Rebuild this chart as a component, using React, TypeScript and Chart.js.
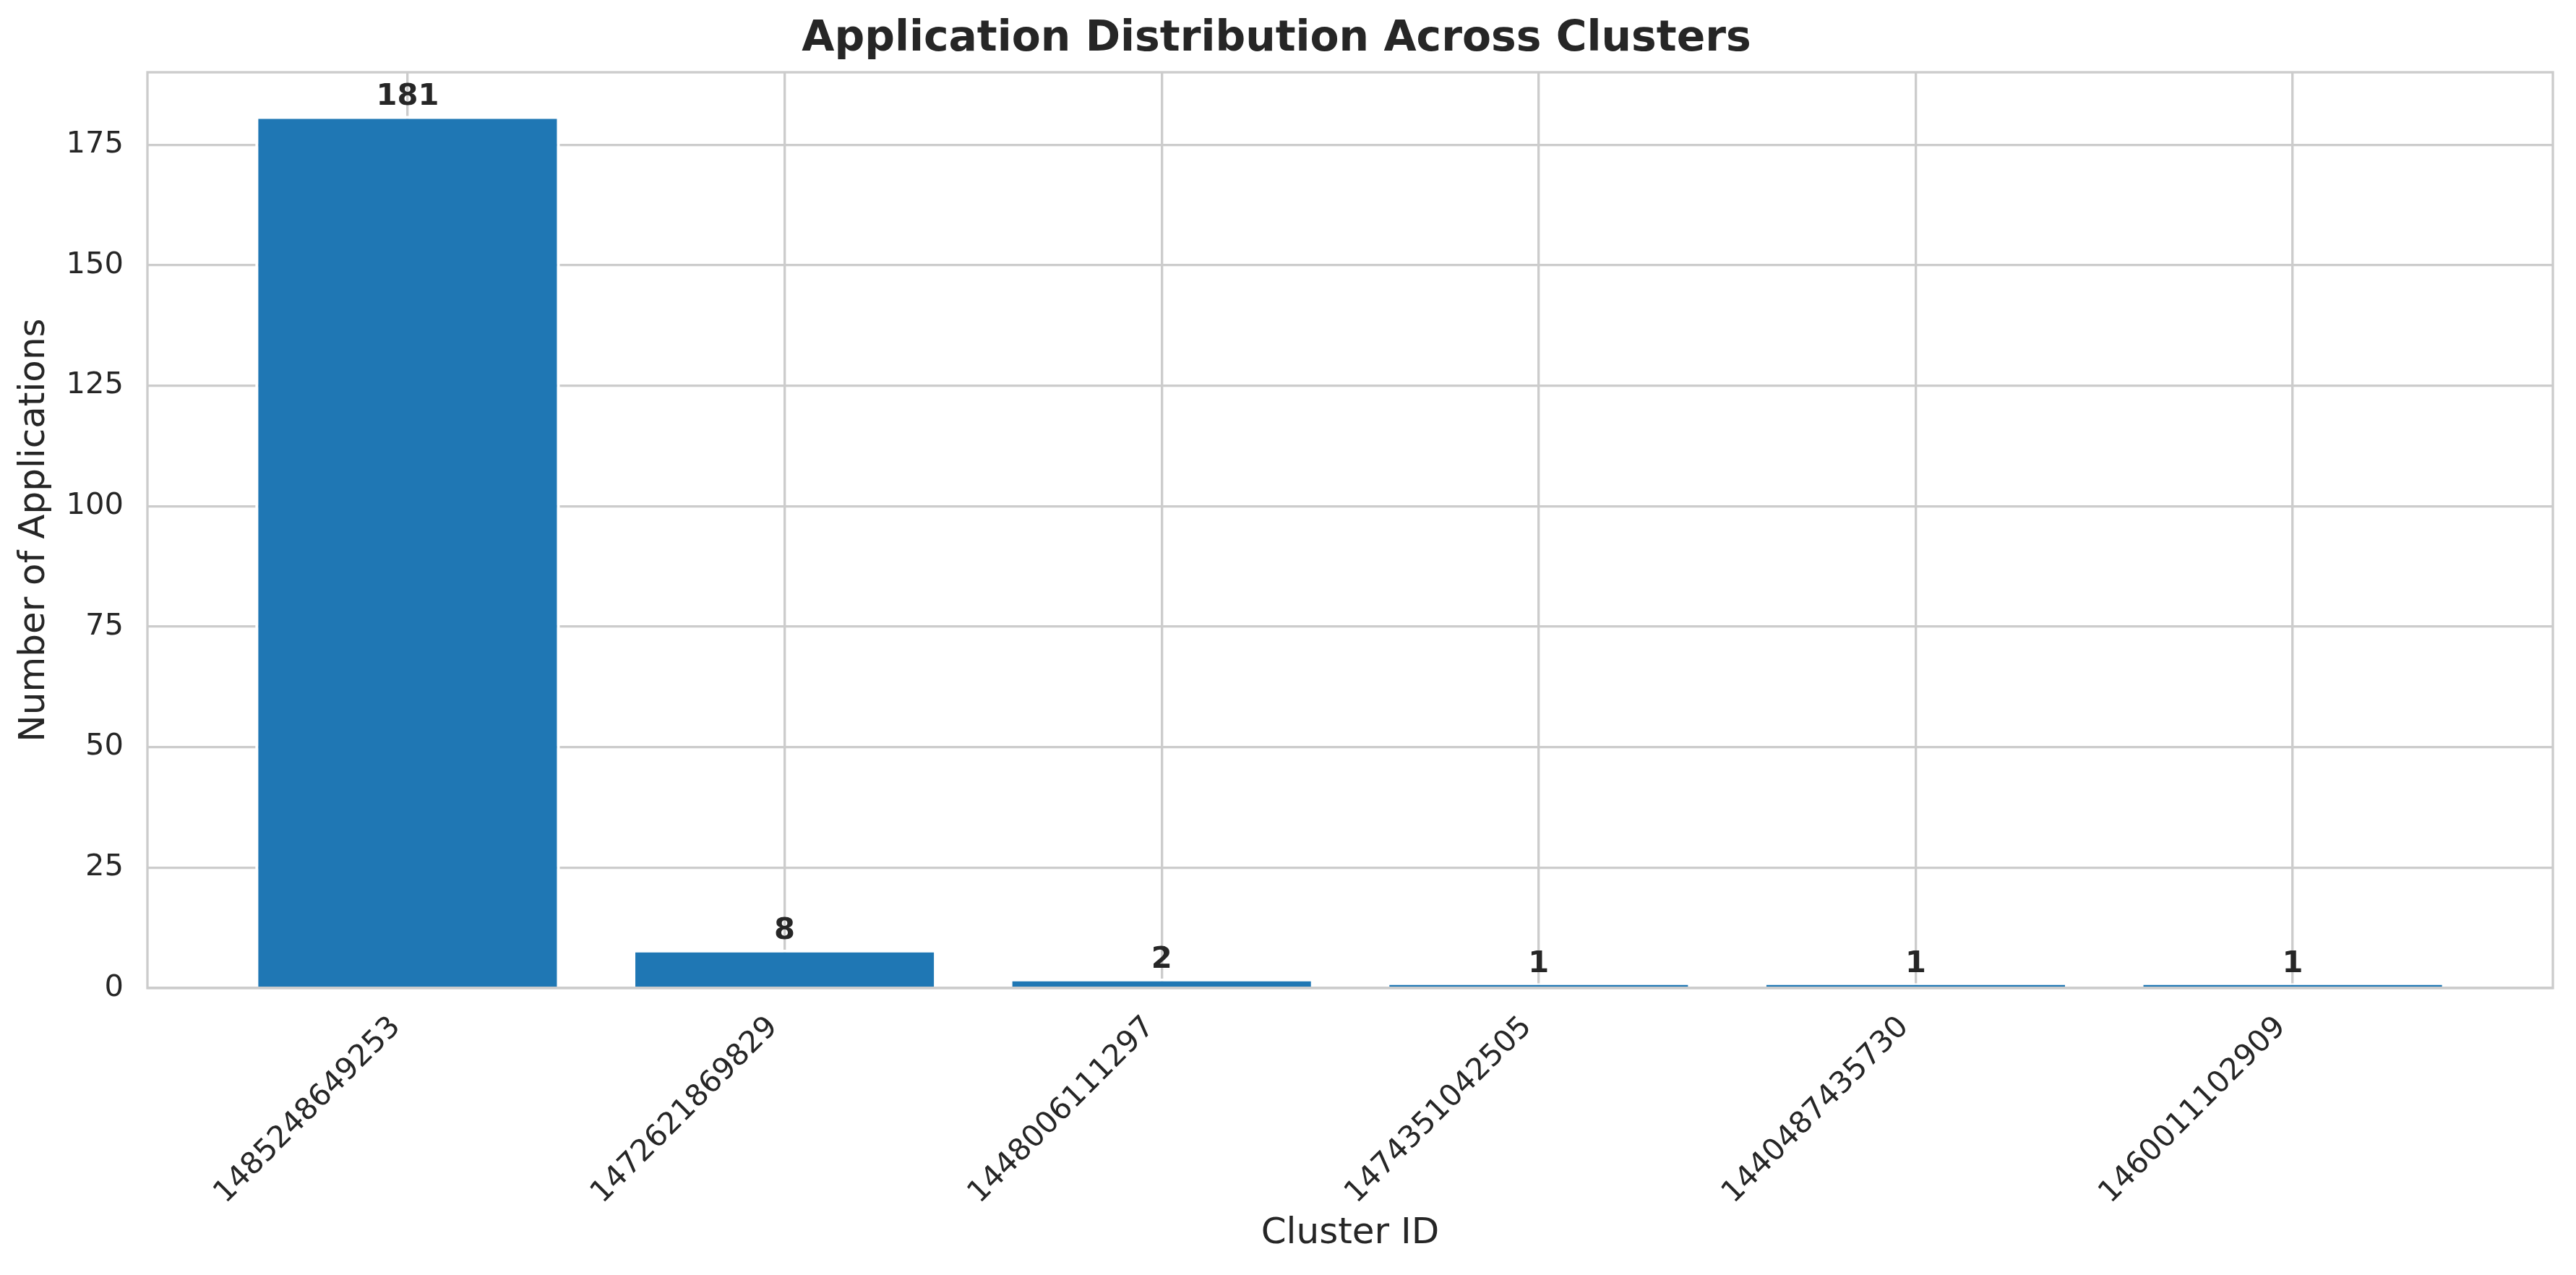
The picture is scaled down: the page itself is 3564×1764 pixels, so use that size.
import React, { useEffect, useRef } from 'react';
import { Chart, registerables } from 'chart.js';

Chart.register(...registerables);

const clusterIds = [
  '1485248649253',
  '1472621869829',
  '1448006111297',
  '1474351042505',
  '1440487435730',
  '1460011102909',
];
const applicationCounts = [181, 8, 2, 1, 1, 1];
const yTickValues = [0, 25, 50, 75, 100, 125, 150, 175];
const xLimits = [-0.69, 5.69];
const yLimits = [0, 190.05];

const titleText = 'Application Distribution Across Clusters';
const xTitle = 'Cluster ID';
const yTitle = 'Number of Applications';

const W = 3564;
const H = 1764;
const TEXT = '#262626';
const GRID = '#cccccc';
const BAR = '#1f77b4';
const FONT = "'DejaVu Sans', sans-serif";
const PT = 300 / 72;

const framePlugin = {
  id: 'frameAndLabels',
  afterDatasetsDraw(chart: any) {
    const { ctx, chartArea } = chart;
    const xs = chart.scales.x;
    const ys = chart.scales.y;
    ctx.save();
    ctx.strokeStyle = GRID;
    ctx.lineWidth = 0.8 * PT;
    ctx.strokeRect(
      chartArea.left,
      chartArea.top,
      chartArea.right - chartArea.left,
      chartArea.bottom - chartArea.top
    );
    ctx.fillStyle = TEXT;
    ctx.font = `bold ${10 * PT}px ${FONT}`;
    ctx.textAlign = 'center';
    ctx.textBaseline = 'alphabetic';
    applicationCounts.forEach((v, i) => {
      const x = xs.getPixelForValue(i);
      const y = ys.getPixelForValue(v) - 15;
      ctx.fillText(String(v), x, y);
    });
    ctx.restore();
  },
};

export default function App() {
  const ref = useRef<HTMLCanvasElement | null>(null);

  useEffect(() => {
    document.body.style.margin = '0';
    document.body.style.overflow = 'hidden';
    const canvas = ref.current;
    if (!canvas) return;
    Chart.defaults.font.family = FONT;
    Chart.defaults.color = TEXT;

    const chart = new Chart(canvas, {
      type: 'bar',
      data: {
        datasets: [
          {
            data: applicationCounts.map((v, i) => ({ x: i, y: v })),
            backgroundColor: BAR,
            borderColor: '#ffffff',
            borderWidth: 4.2,
            borderSkipped: 'start',
            barPercentage: 0.808,
            categoryPercentage: 1,
          },
        ],
      },
      options: {
        responsive: false,
        animation: false,
        devicePixelRatio: 1,
        layout: { padding: { left: 0, right: 32, top: 0, bottom: 0 } },
        plugins: {
          legend: { display: false },
          tooltip: { enabled: false },
          title: {
            display: true,
            text: titleText,
            color: TEXT,
            font: { size: 14 * PT, weight: 'bold', family: FONT },
            padding: { top: 20, bottom: 10 },
          },
        },
        scales: {
          x: {
            type: 'linear',
            offset: false,
            min: xLimits[0],
            max: xLimits[1],
            afterBuildTicks: (scale: any) => {
              scale.ticks = clusterIds.map((_, i) => ({ value: i }));
            },
            afterFit: (scale: any) => {
              scale.height = H - 1367;
            },
            grid: { color: GRID, lineWidth: 0.8 * PT, drawTicks: false, offset: false },
            border: { display: false },
            ticks: {
              autoSkip: false,
              minRotation: 45,
              maxRotation: 45,
              padding: 30,
              labelOffset: -16,
              color: TEXT,
              font: { size: 10 * PT, family: FONT },
              callback: (value: any) => clusterIds[Math.round(Number(value))] ?? '',
            },
            title: {
              display: true,
              text: xTitle,
              color: TEXT,
              font: { size: 12 * PT, family: FONT },
              padding: { top: 0, bottom: 27 },
            },
          },
          y: {
            type: 'linear',
            min: yLimits[0],
            max: yLimits[1],
            afterBuildTicks: (scale: any) => {
              scale.ticks = yTickValues.map((v) => ({ value: v }));
            },
            afterFit: (scale: any) => {
              scale.width = 204;
            },
            grid: { color: GRID, lineWidth: 0.8 * PT, drawTicks: false },
            border: { display: false },
            ticks: {
              padding: 33,
              color: TEXT,
              font: { size: 10 * PT, family: FONT },
              callback: (value: any) => String(value),
            },
            title: {
              display: true,
              text: yTitle,
              color: TEXT,
              font: { size: 12 * PT, family: FONT },
              padding: { top: 18, bottom: 0 },
            },
          },
        },
      },
      plugins: [framePlugin],
    } as any);

    return () => chart.destroy();
  }, []);

  return (
    <canvas
      ref={ref}
      width={W}
      height={H}
      style={{ display: 'block', width: W, height: H, position: 'fixed', left: 0, top: 0 }}
    />
  );
}
